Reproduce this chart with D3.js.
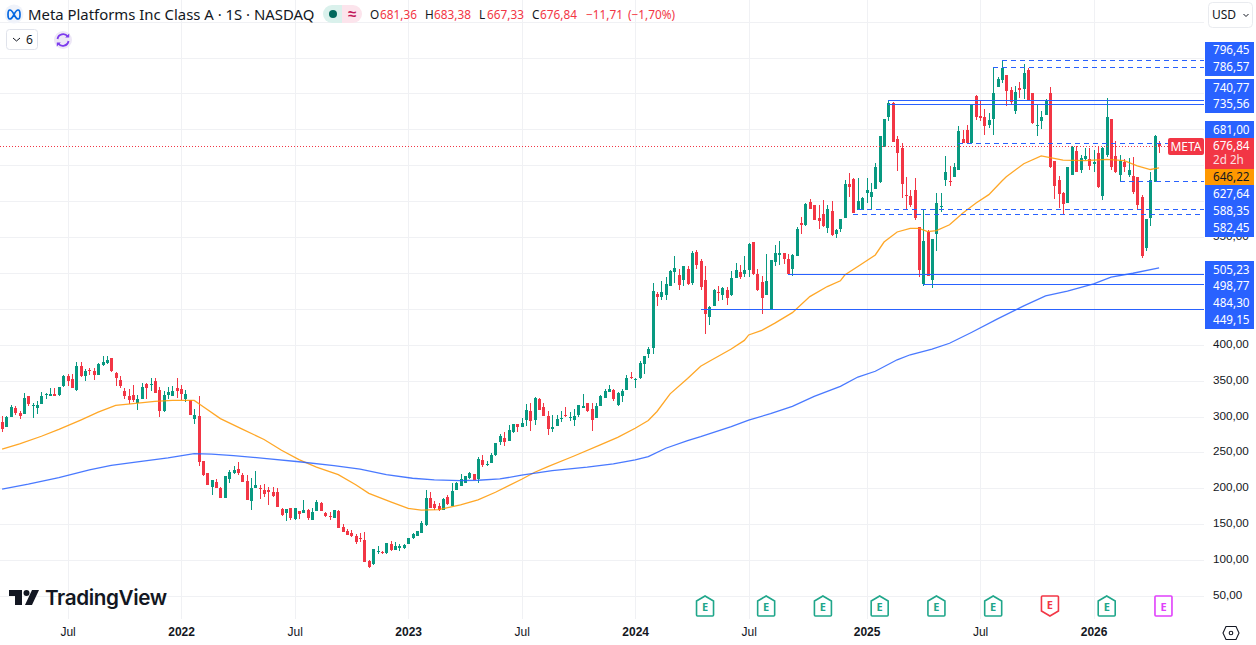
<!DOCTYPE html>
<html><head><meta charset="utf-8">
<style>
html,body{margin:0;padding:0;background:#fff;overflow:hidden}
svg{display:block;font-family:"Noto Sans",sans-serif}
</style>
<script src="https://cdn.jsdelivr.net/npm/d3@7"></script>
</head><body><svg id="c" width="1256" height="645"></svg>
<script>
// Weekly candles, META
const opens=[292,285,299,312,305,303,328,314,312,318,
330.6,329,332,330,342,357,352,337,371,357,
364.5,363,358,372,375,382,360,351,336,329,
330,318.5,324.5,345,344.5,349,337,307,330,329,
340,338,324,323,297,301,238,221,202,209,
201,187,213,221,227,219,210,182,201,201,
198,197,195,195,171,166,172,157,168,166,
170,156.5,168,180,165,162,159,168,146,141,
138,134,130.5,128,99,94,111,111.5,110,123,
114,117.5,116.5,123,130.5,134,138,149,187,178,
175.5,170,188,176,198,203,208,214,220,213,
240,232,235,246,265,270,266,278,290,286,
295,308,295,324.5,313,301,283,287,297,302,
298,295,302,312,319,311,298,315,326,334,
337,316,329,337,355,351.5,354,373,387,395,
471,467,469,482,501,497,490,506,486,529,
517,490,439,454,474,469,476,469,493,501,
498.5,504,543,498.5,487,469,449,515,525.5,528,
519,505,524,570,567,599,595,576.5,582,563,
586,554,561,576.5,624,631,588,588,611,606,
617,626,676,717,736,687,674.5,608.5,607,615.5,
564,484,557.5,490,554,592.3,629.5,628,634,643,
687,699,681.5,746,718,717,706,714.5,759.5,769,
776,755,726,757,756,783,750,705,712,720.5,
751,656,630,611,598,637,670,644,658,659,
652,667,607,664,714.5,663,637,654,636.5,635,
633,606,535,577,627,681.36];
const highs=[301,301,316,315,308,333,329,319,321,334,
333,339,339,341,358,359,359,376,376,366,
367,367,375,384,384,382,362,357,339,338,
344,330,347,347,354,354,341,336,341,342,
354,344,337,323,311,329,238,222,212,213,
202,217,226,231,237,222,219,214,224,204,
206,202,202,201,172,171,172,173,169,184,
171,172,184,181,167,167,170,170,150,144,
142.5,136.5,138,139,100,116,120,113,124.5,126,
125,122,122,131,138,141,154,198,195,182,
180,187,191,207,209,220.5,217,223,220.5,243,
246,238,249,263,276,278,288,290,290,298,
317,319,327,326,319,307,302,302,307,313,
306,311,316,331.5,319,319,318.5,330,338.5,344,
338.5,334,338.5,358,362,354,377.5,384.5,397,486,
474,489,494.5,504,524,506,510,510,531,532,
519.5,510,454,478,482,480.5,480.5,503,514,511,
524,541,543,506,495,527,518,539,544.5,528,
526,527,564.5,578,597,603,595,595,602,595,
600,561,575,629.5,639,632,632,606,632,625,
653,690,715,741,738,690,681,634,615.5,632,
564,588.6,560,547,611,611,663,649,653,705,
699,706,734,748,741,728,723,786.5,772.5,796.5,
776,759.5,760,766.5,791,785.5,750,735,725,742,
759,656,635,613,648,677,677,664,674,674,
671,676,676,743,715,684,664,658,660,661,
634,609,575,640,692,683.38];
const lows=[279,285,299,302,297,303,314,298,304,318,
324.5,329,329,329,341,343,340,336,355,349,
358,351,358,370,373,362,342,339,324,318,
320,309,324,325,336,333,299,306,325,328,
326,323,320,302,290,231,217,204,191,200,
187,187,207,220,219,209,184,170,200,185,
188,177,188,174,162,155,156,156,157,166,
156,156,168,168,160,156,158,145,139,135,
132,123,125,97.5,89,93,109,109,109,112,
114,113,116,123,130,133,138,148,172,170,
168.5,170,177,175,197,203,208,213,211,207,
230,231,235,245,260.5,259,266,277,279,285.5,
287,280,288,309,301,274,278,287,292.5,299,
294,287,299,312,306,280,298,315,326,334,
322,315,320,337,352,340,352,359,382,387,
454,462,462,482,486,476,482,483,483,506,
476,415,428,454,461,462,455.5,468,493,492,
494,494,497,475,443,469,449,510,511,513,
498.5,496,524,554,566,589,573,561,563.5,555,
551.5,549,557,576.5,606,583,588,587,597,589,
617,625,675,711,683,642.5,604,588,592,574,
494,482,495.7,478.6,530,585,621,621,633,643,
680.6,680.6,680.6,713,712,692,702,692,758.6,765,
733,735,721,743,742,739.5,708,691,700,720,
646,603,590,582,598,636,640,639,657,643,
640,618,601,661,643,639,627,641,634,610,
588,521,530,565,626,667.33];
const closes=[282,299,313,305,301,326,318,316,316,329,
332,331,329,341,356,350,340,371,356,363,
363.5,358,373,376,379,364,353,343,329,323,
323,324,341,340,345.5,333,307,330,334,336,
336,332,332,302,302,236,219,205,212,200,
187,217,223,226,221,209,184,200,205,200,
192,195,189,174,163,171,158,172,164,170,
158,167,181,168,162,161,170,145,139,135,
133,125,129.5,98,90,115,112,110,124,114,
120,119,121,131,137,140,152,187,173,172,
169.5,185,178,196,207,213,217,221.5,212,241,
232,234,246.5,263,273,265,281,290,285.5,291,
309,294,326,309,301,283,285.5,297,298.5,300.5,
300,301,316,315,307,295,315,329,336,338.5,
324.5,333,336,354,354,352.5,375,384.5,394,475,
467,474,485,503,507,483,510,485,528,511,
480.5,443,453,476,472,479,465,493,504,494,
504,540,498.5,476,465,489,518,528,527.5,520,
499,525,561,567,596,589,574,572,565,589,
553,560,575,624,620,583,600,604,615.5,613,
648,690,714.5,736,683,667,624,607,595,576,
504,544.5,495.7,547,597,593.7,641,627,647,698,
681,681,734,717,716,704,713,751,770,785.5,
754,738,752.5,755,779,741,709,706,717,739,
647,621,610,596,647,676,640,660,663,649,
654,620,674,717,647,640,656,648,644,612,
594,524,575,629,690,676.84];

// Moving averages, read at the listed bars
const smaFastBars=[0,4,9,13,18,22,26,30,35,39,44,46,50,55,60,64,68,72,77,81,84,89,93,96,100,105,109,113,119,122,125,131,137,141,145,148,150,153,157,160,162,167,170,171,174,177,181,185,189,192,193,196,200,202,205,208,210,212,214,217,220,223,226,229,230,234,238,243,248,253,257,260,263,265];
const smaFastValues=[254.5,262,272.5,282,295,306,315.5,318,321,322.5,322.5,314,297,282.5,268,253,240,229.5,219,205,193,181,172,169.5,170.4,177,184,194.5,212.6,222.4,230.3,245,260.5,271,283.7,294.4,307,331.5,353,370,377,394,406,413.6,420,430,444.7,467,481,489,497,509,525,543,557,562,562,557.5,559,567,583,597,609,628,634,652,663,657,656.4,658,656.4,649,644,646.22];
const smaSlowBars=[0,6,13,20,25,31,38,44,48,53,60,68,76,82,88,94,99,105,109,114,119,126,134,140,145,148,152,157,160,167,171,176,181,186,192,196,200,205,208,213,217,222,228,234,239,244,250,254,259,265];
const smaSlowValues=[199,205.7,215,225.6,232,236.8,242.3,248.4,247.5,245.6,241.7,237,231.7,226.6,219,214,211.7,210.8,211.2,213,218.2,224.7,229.4,234,239.6,244.2,255.8,266.5,272,286,295,304,314,328,342,355,363,379,386,394,402,417,436,454,468,474.5,484.6,494,499.5,507];

// Axes
const priceTicks=[50,100,150,200,250,300,350,400,550];
const gridPrices=[50,100,150,200,250,300,350,400,450,500,550,600,650,700,750,800,850];
const timeBars=[15,41,67,93,119,145,171,198,224,250];
const timeLabels=["Jul","2022","Jul","2023","Jul","2024","Jul","2025","Jul","2026"];

// Horizontal rays
const rayValues=[796.45,786.57,740.77,735.56,681.00,627.64,588.35,582.45,498.77,484.30,449.15];
const rayBars=[229,227,203,203,219,256,196,195,180,211,160];
const rayDashed=[1,1,0,0,1,1,1,1,0,0,0];

// Price tags on the axis
const tagValues=[796.45,786.57,740.77,735.56,681.00,627.64,588.35,582.45,505.23,498.77,484.30,449.15];
const lastClose=676.84, ma50Last=646.22;

// Earnings
const earningsBars=[161,175,188,201,214,227,240,253,266];
const earningsKinds=["up","up","up","up","up","up","down","up","next"];

const fmt=v=>v.toFixed(2).replace(".",",");
const W=1256,H=645,paneR=1204,paneB=619;
const x=d3.scaleLinear().domain([0,265]).range([2.1,1159.1]);
const y=d3.scaleLinear().domain([50,850]).range([596,21.6]);
const UP="#089981",DOWN="#F23645",BLUE="#2962FF",ORANGE="#FF9800",INK="#131722",GRID="#f0f1f4";
const svg=d3.select("#c");
svg.append("rect").attr("width",W).attr("height",H).attr("fill","#fff");

// grid
const grid=svg.append("g").attr("shape-rendering","crispEdges").attr("stroke",GRID);
grid.selectAll("line.h").data(gridPrices).join("line").attr("class","h")
  .attr("x1",0).attr("x2",paneR).attr("y1",d=>Math.round(y(d))+.5).attr("y2",d=>Math.round(y(d))+.5);
grid.selectAll("line.v").data(timeBars).join("line").attr("class","v")
  .attr("y1",0).attr("y2",paneB).attr("x1",d=>Math.round(x(d))+.5).attr("x2",d=>Math.round(x(d))+.5);

// candles
const bars=opens.map((o,i)=>({i,o,h:highs[i],l:lows[i],c:closes[i]}));
const cg=svg.append("g").attr("shape-rendering","crispEdges");
const color=d=>d.c>=d.o?UP:DOWN;
cg.selectAll("rect.w").data(bars).join("rect").attr("class","w")
  .attr("x",d=>Math.round(x(d.i))).attr("width",1)
  .attr("y",d=>y(d.h)).attr("height",d=>Math.max(1,y(d.l)-y(d.h))).attr("fill",color);
cg.selectAll("rect.b").data(bars).join("rect").attr("class","b")
  .attr("x",d=>Math.round(x(d.i))-1).attr("width",3)
  .attr("y",d=>y(Math.max(d.o,d.c))).attr("height",d=>Math.max(1,Math.abs(y(d.o)-y(d.c)))).attr("fill",color);

// moving averages
const line=d3.line().x(d=>x(d[0])).y(d=>y(d[1]));
svg.append("path").attr("d",line(d3.zip(smaFastBars,smaFastValues))).attr("fill","none").attr("stroke",ORANGE).attr("stroke-opacity",.85).attr("stroke-width",1.3);
svg.append("path").attr("d",line(d3.zip(smaSlowBars,smaSlowValues))).attr("fill","none").attr("stroke",BLUE).attr("stroke-opacity",.85).attr("stroke-width",1.3);

// rays
const rg=svg.append("g").attr("shape-rendering","crispEdges");
rayValues.forEach((v,k)=>{
  rg.append("line").attr("x1",x(rayBars[k])).attr("x2",paneR)
    .attr("y1",Math.round(y(v))+.5).attr("y2",Math.round(y(v))+.5)
    .attr("stroke",BLUE).attr("stroke-width",1).attr("stroke-dasharray",rayDashed[k]?"5,4":null);
});
// last price line
rg.append("line").attr("x1",0).attr("x2",paneR).attr("y1",Math.round(y(lastClose))+.5).attr("y2",Math.round(y(lastClose))+.5)
  .attr("stroke",DOWN).attr("stroke-dasharray","1,2");

// price axis
const ya=d3.axisRight(y).tickValues(priceTicks).tickSize(0).tickPadding(9).tickFormat(fmt);
const yg=svg.append("g").attr("transform",`translate(${paneR},0)`).call(ya);
yg.select(".domain").remove();
yg.selectAll("text").attr("font-size",11.7).attr("fill",INK).attr("dy","0.22em");

// time axis
const xa=d3.axisBottom(x).tickValues(timeBars).tickSize(0).tickPadding(0).tickFormat((d,i)=>timeLabels[i]);
const xg=svg.append("g").attr("transform","translate(0,627)").call(xa);
xg.select(".domain").remove();
xg.selectAll("text").attr("font-size",12).attr("fill",INK).attr("font-weight",(d,i)=>timeLabels[i]==="Jul"?400:600);

// tags: rows are the label layout once overlaps are pushed apart
const tagRows=[50,67,87.5,104,129.5,194,211,228,269.5,286,303,320];
const tg=svg.append("g");
[[41.5,75.5],[79,112.5],[121,138],[185,237],[261,329]].forEach(r=>{
  tg.append("rect").attr("x",1205).attr("y",r[0]).attr("width",49).attr("height",r[1]-r[0]).attr("fill",BLUE).attr("shape-rendering","crispEdges");
});
tg.append("rect").attr("x",1205).attr("y",138).attr("width",49).attr("height",31).attr("fill",DOWN).attr("shape-rendering","crispEdges");
tg.append("rect").attr("x",1205).attr("y",169).attr("width",49).attr("height",16).attr("fill",ORANGE).attr("shape-rendering","crispEdges");
tagValues.forEach((v,k)=>{
  tg.append("text").attr("x",1213).attr("y",tagRows[k]).attr("dy","0.35em").attr("font-size",11.7).attr("fill","#fff").text(fmt(v));
});
tg.append("text").attr("x",1213).attr("y",146).attr("dy","0.35em").attr("font-size",11.7).attr("fill","#fff").text(fmt(lastClose));
tg.append("text").attr("x",1213).attr("y",160).attr("dy","0.35em").attr("font-size",11.7).attr("fill","#fff").attr("fill-opacity",.85).text("2d 2h");
tg.append("text").attr("x",1213).attr("y",177).attr("dy","0.35em").attr("font-size",11.7).attr("fill",INK).text(fmt(ma50Last));
tg.append("rect").attr("x",1168).attr("y",138).attr("width",36).attr("height",17).attr("rx",2).attr("fill",DOWN);
tg.append("text").attr("x",1186).attr("y",146.5).attr("dy","0.35em").attr("text-anchor","middle").attr("font-size",12).attr("fill","#fff").text("META");

// earnings markers
const eColors={up:"#1FA68A",down:DOWN,next:"#E040FB"};
const eg=svg.append("g");
earningsBars.forEach((b,k)=>{
  const kind=earningsKinds[k],g=eg.append("g").attr("transform",`translate(${x(b)},606)`);
  const d=kind==="up"?"M-8.5,-5 L0,-10 L8.5,-5 V9 Q8.5,10 7.5,10 H-7.5 Q-8.5,10 -8.5,9 Z"
    :kind==="down"?"M-8.5,-9 Q-8.5,-10 -7.5,-10 H7.5 Q8.5,-10 8.5,-9 V5 L0,10 L-8.5,5 Z"
    :"M-8.5,-9 Q-8.5,-10 -7.5,-10 H7.5 Q8.5,-10 8.5,-9 V9 Q8.5,10 7.5,10 H-7.5 Q-8.5,10 -8.5,9 Z";
  g.append("path").attr("d",d).attr("fill","#fff").attr("stroke",eColors[kind]).attr("stroke-width",1.6);
  g.append("text").attr("text-anchor","middle").attr("y",kind==="down"?-1:1).attr("dy","0.35em").attr("font-size",11).attr("font-weight",700).attr("fill",eColors[kind]).text("E");
});

// watermark logo
const lg=svg.append("g");
lg.append("path").attr("d","M9 590H22V605H15V596H9Z").attr("fill",INK);
lg.append("circle").attr("cx",26.5).attr("cy",593).attr("r",3).attr("fill",INK);
lg.append("path").attr("d","M32 590H39L32 605H25Z").attr("fill",INK);
lg.append("text").attr("x",45).attr("y",605).attr("font-family","Inter,sans-serif").attr("font-size",20.7).attr("font-weight",600).attr("letter-spacing",-.4).attr("fill",INK).text("TradingView");

// header
const hg=svg.append("g");
hg.append("circle").attr("cx",14).attr("cy",14).attr("r",9.5).attr("fill","#f0f3fa");
hg.append("path").attr("d","M8 14.5c0-6 3-6 6 0s6 6 6 0-3-6-6 0-6 6-6 0Z").attr("fill","none").attr("stroke","#0668E1").attr("stroke-width",1.7);
hg.append("text").attr("x",28).attr("y",19.5).attr("font-size",14.9).attr("fill",INK).text("Meta Platforms Inc Class A · 1S · NASDAQ");
hg.append("path").attr("d","M342 5H332a9 9 0 0 0 0 18H342Z").attr("fill","#daf1ec");
hg.append("path").attr("d","M342 5H353a9 9 0 0 1 0 18H342Z").attr("fill","#fce4ec");
hg.append("circle").attr("cx",333).attr("cy",14).attr("r",4).attr("fill","#00695c");
hg.append("text").attr("x",352).attr("y",19).attr("text-anchor","middle").attr("font-size",15).attr("font-weight",700).attr("fill","#c2185b").text("≈");
const ohlc=[["O",370],["681,36",380,1],["H",425],["683,38",434,1],["L",479],["667,33",487,1],["C",532],["676,84",540,1],["−11,71",586,1],["(−1,70%)",628,1]];
ohlc.forEach(t=>hg.append("text").attr("x",t[1]).attr("y",19).attr("font-size",11.8).attr("fill",t[2]?DOWN:INK).text(t[0]));

// collapsed-indicators row
hg.append("rect").attr("x",6.5).attr("y",29.5).attr("width",31).attr("height",20).attr("rx",3).attr("fill","#fff").attr("stroke","#e0e3eb");
hg.append("path").attr("d","M13 38l3.500 3 3.500-3").attr("fill","none").attr("stroke",INK).attr("stroke-width",1);
hg.append("text").attr("x",26).attr("y",44).attr("font-size",12).attr("fill",INK).text("6");
hg.append("circle").attr("cx",63).attr("cy",40).attr("r",9).attr("fill","#ede7f6");
hg.append("path").attr("d","M57.500 39a5.700 5.700 0 0 1 10.200-2.500M68.500 41a5.700 5.700 0 0 1-10.200 2.500").attr("fill","none").attr("stroke","#7C3AED").attr("stroke-width",1.8);
hg.append("path").attr("d","M69.200 33.500v4h-4ZM56.800 46.500v-4h4Z").attr("fill","#7C3AED");

// currency button
hg.append("rect").attr("x",1208.500).attr("y",2.500).attr("width",44).attr("height",25).attr("rx",4).attr("fill","#fff").attr("stroke","#e9ebef");
hg.append("text").attr("x",1212).attr("y",19).attr("font-size",12).attr("fill",INK).text("USD");
hg.append("path").attr("d","M1243.500 14l2.500 2.500 2.500-2.500").attr("fill","none").attr("stroke",INK).attr("stroke-width",1);

// settings glyph
hg.append("path").attr("d","M1226 626.500H1236L1239 633L1236 639.500H1226L1223 633Z").attr("fill","none").attr("stroke",INK).attr("stroke-width",1.1);
hg.append("circle").attr("cx",1231).attr("cy",633).attr("r",1.800).attr("fill","none").attr("stroke",INK).attr("stroke-width",1.1);
</script></body></html>
